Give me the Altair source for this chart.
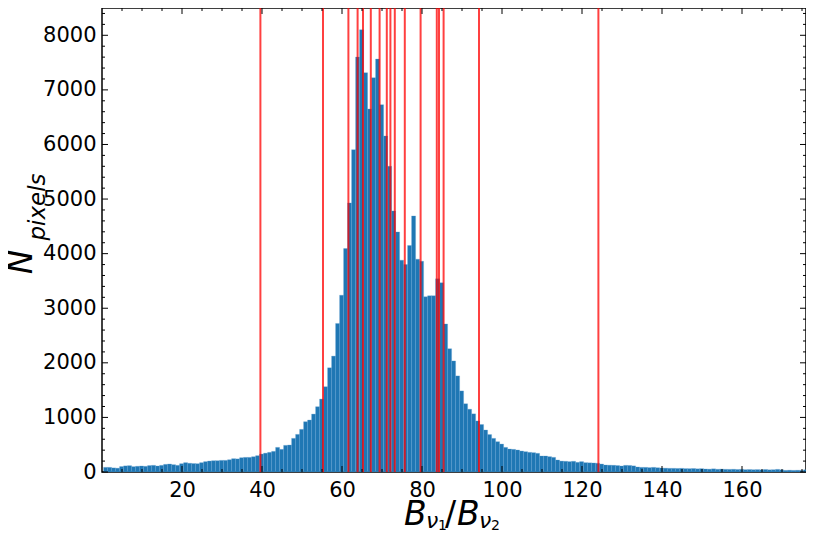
import altair as alt
import pandas as pd

# ---------------- data ----------------
bin_origin = 0.4
bin_width = 1.0
counts = [
    85, 85, 75, 70, 100, 112, 116, 98, 105, 110,
    104, 118, 122, 110, 122, 140, 146, 134, 122, 152,
    171, 160, 155, 152, 171, 190, 201, 207, 207, 213,
    213, 225, 244, 240, 262, 268, 268, 280, 299, 329,
    345, 360, 378, 451, 415, 488, 494, 616, 689, 781,
    921, 952, 1061, 1196, 1336, 1562, 1909, 2123, 2721, 3239,
    4093, 4929, 5905, 7601, 8101, 7314, 6649, 7222, 7564, 6729,
    6155, 5600, 4782, 4398, 3880, 3800, 4150, 4691, 3898, 3861,
    3209, 3228, 3228, 3538, 3465, 2712, 2258, 2034, 1760, 1485,
    1250, 1150, 1065, 935, 870, 769, 686, 616, 555, 512,
    451, 421, 415, 403, 384, 372, 360, 354, 342, 293,
    293, 281, 268, 220, 200, 196, 190, 196, 177, 190,
    171, 168, 165, 160, 146, 128, 125, 122, 118, 110,
    122, 120, 112, 92, 85, 85, 80, 85, 78, 73,
    70, 67, 67, 65, 67, 62, 61, 64, 58, 61,
    55, 52, 58, 50, 53, 49, 48, 50, 46, 49,
    43, 45, 42, 44, 40, 46, 40, 42, 48, 40,
    30, 33, 30, 32, 30, 40,
]
red_lines = [39.6, 55.25, 61.6, 63.9, 65.25, 67.2, 69.4, 71.2, 72.1, 73.2,
             75.7, 79.65, 83.7, 84.25, 85.4, 94.25, 124.1]
x_domain = [0, 176]
y_domain = [0, 8500]
x_major = [20, 40, 60, 80, 100, 120, 140, 160]
x_minor = [v for v in range(5, 176, 5) if v % 20 != 0]
y_major = [0, 1000, 2000, 3000, 4000, 5000, 6000, 7000, 8000]
y_minor = [v for v in range(200, 8500, 200) if v % 1000 != 0]

W, H = 704, 464
FONT = "DejaVu Sans"
LSIZE = 21

bars_df = pd.DataFrame({
    "start": [bin_origin + i * bin_width for i in range(len(counts))],
    "end": [bin_origin + (i + 1) * bin_width for i in range(len(counts))],
    "count": counts,
    "zero": [0] * len(counts),
})

xs = alt.Scale(domain=x_domain, nice=False, zero=False)
ys = alt.Scale(domain=y_domain, nice=False, zero=False)
xaxis = alt.Axis(values=x_major, title=None, ticks=False, domain=False, grid=False,
                 labelFont=FONT, labelFontSize=LSIZE, labelColor="black", format="d",
                 labelPadding=7, labelFlush=False)
yaxis = alt.Axis(values=y_major, title=None, ticks=False, domain=False, grid=False,
                 labelFont=FONT, labelFontSize=LSIZE, labelColor="black", format="d",
                 labelPadding=6, labelFlush=False)

bars = alt.Chart(bars_df).mark_bar(color="#1f77b4", clip=True, stroke="#5b9bd0",
                                    strokeWidth=0.3).encode(
    x=alt.X("start:Q", scale=xs, axis=xaxis),
    x2="end:Q",
    y=alt.Y("count:Q", scale=ys, axis=yaxis),
    y2="zero:Q",
)

rules = alt.Chart(pd.DataFrame({"v": red_lines})).mark_rule(
    color="#ff0000", opacity=0.75, strokeWidth=2
).encode(x=alt.X("v:Q", scale=xs, axis=xaxis))


def xticks(vals, L):
    d = pd.DataFrame({"v": vals})
    bot = alt.Chart(d).mark_rule(color="black", strokeWidth=1).encode(
        x=alt.X("v:Q", scale=xs, axis=xaxis), y=alt.value(H), y2=alt.value(H - L))
    top = alt.Chart(d).mark_rule(color="black", strokeWidth=1).encode(
        x=alt.X("v:Q", scale=xs, axis=xaxis), y=alt.value(0), y2=alt.value(L))
    return [bot, top]


def yticks(vals, L):
    d = pd.DataFrame({"v": vals})
    left = alt.Chart(d).mark_rule(color="black", strokeWidth=1).encode(
        y=alt.Y("v:Q", scale=ys, axis=yaxis), x=alt.value(0), x2=alt.value(L))
    right = alt.Chart(d).mark_rule(color="black", strokeWidth=1).encode(
        y=alt.Y("v:Q", scale=ys, axis=yaxis), x=alt.value(W), x2=alt.value(W - L))
    return [left, right]


def label(txt, x, y, size, italic=True, angle=0, align="left", baseline="alphabetic"):
    kw = dict(font=FONT, fontSize=size, color="black", align=align, baseline=baseline)
    if italic:
        kw["fontStyle"] = "italic"
    if angle:
        kw["angle"] = angle
    return alt.Chart(pd.DataFrame({"t": [txt]})).mark_text(**kw).encode(
        x=alt.value(x), y=alt.value(y), text="t:N")


# axis titles (mathtext-like), positions in pixels relative to the plot area
ox, oy = 102, 8
titles = [
    label("B", 404 - ox, 525 - oy, 33),
    label("ν", 426 - ox, 528 - oy, 22),
    label("1", 438 - ox, 530 - oy, 14, italic=False),
    label("/", 445 - ox, 525 - oy, 33, italic=False),
    label("B", 457 - ox, 525 - oy, 33),
    label("ν", 479 - ox, 528 - oy, 22),
    label("2", 491 - ox, 530 - oy, 14, italic=False),
    label("N", 22 - ox, 262 - oy, 33, angle=270, align="center", baseline="middle"),
    label("pixels", 38 - ox, 207 - oy, 23, angle=270, align="center", baseline="middle"),
]

layers = [bars, rules] + xticks(x_major, 6) + xticks(x_minor, 3) + \
    yticks(y_major, 6) + yticks(y_minor, 3) + titles

chart = alt.layer(*layers).properties(
    width=W, height=H,
    autosize=alt.AutoSizeParams(type="none"),
    padding={"left": 94, "top": 0, "right": 0, "bottom": 59},
).configure_view(stroke="black", strokeWidth=1.5)

chart.save("out.html", embed_options={"renderer": "svg", "actions": False})
